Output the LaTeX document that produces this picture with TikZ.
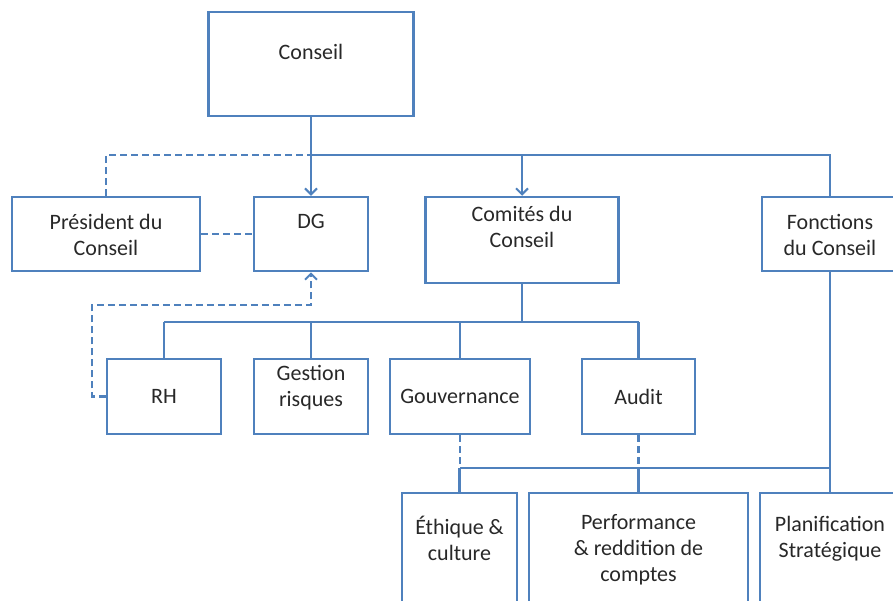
\documentclass[tikz,border=0pt]{standalone}
\usepackage{fontspec}
\setmainfont{Carlito}
\usetikzlibrary{arrows.meta}

\definecolor{orgblue}{RGB}{79,129,189}
\definecolor{orgtext}{RGB}{40,40,40}

\tikzset{
  box/.style={draw=orgblue, line width=2.5pt, rectangle, inner sep=0pt},
  txt/.style={anchor=north, align=center, text=orgtext, inner sep=0pt,
    font=\fontsize{22}{26}\selectfont},
  link/.style={draw=orgblue, line width=2.5pt},
  dashlink/.style={link, dash pattern=on 7pt off 4pt},
  tip/.style={-{Straight Barb[length=6pt,width=12pt,line width=2pt]}}
}

\begin{document}
\begin{tikzpicture}[x=1pt,y=-1pt]

      \useasboundingbox (0,0) rectangle (893,600);
      \clip (0,0) rectangle (893,600);

      \begin{scope}
        \node[box, minimum width=205pt, minimum height=104pt,
          label={[txt, yshift=-33pt]north:Conseil}] (conseil) at (311,64) {};

        \node[box, minimum width=188pt, minimum height=74pt,
          label={[txt, yshift=-18pt]north:Président du\\Conseil}] (pres) at (106,234) {};
        \node[box, minimum width=114pt, minimum height=74pt,
          label={[txt, yshift=-18pt]north:DG}] (dg) at (311,234) {};
        \node[box, minimum width=193pt, minimum height=86pt,
          label={[txt, yshift=-10pt]north:Comités du\\Conseil}] (comites) at (522,240) {};
        \node[box, minimum width=136pt, minimum height=74pt,
          label={[txt, yshift=-18pt]north:Fonctions\\du Conseil}] (fonctions) at (830,234) {};

        \node[box, minimum width=114pt, minimum height=75pt,
          label={[txt, yshift=-31pt]north:RH}] (rh) at (164,396.5) {};
        \node[box, minimum width=114pt, minimum height=75pt,
          label={[txt, yshift=-7pt]north:Gestion\\risques}] (risques) at (311,396.5) {};
        \node[box, minimum width=140pt, minimum height=75pt,
          label={[txt, yshift=-31pt]north:Gouvernance}] (gouv) at (460,396.5) {};
        \node[box, minimum width=113pt, minimum height=75pt,
          label={[txt, yshift=-31pt]north:Audit}] (audit) at (638.5,396.5) {};

        \node[box, minimum width=115pt, minimum height=130pt,
          label={[txt, yshift=-24pt]north:Éthique \&\\culture}] (ethique) at (459.5,558) {};
        \node[box, minimum width=219pt, minimum height=130pt,
          label={[txt, yshift=-22pt]north:Performance\\\& reddition de\\comptes}] (perf) at (638.5,558) {};
        \node[box, minimum width=140pt, minimum height=130pt,
          label={[txt, yshift=-24pt]north:Planification\\Stratégique}] (planif) at (830,558) {};
      \end{scope}

      % bus lines
      \coordinate (topbus) at (311,155);
      \coordinate (midbus) at (522,322);
      \coordinate (lowbus) at (830,468);
      \coordinate (rhloop) at (92,305);

      \draw[link, tip] (conseil.south) -- (dg.north);
      \draw[link] (topbus) -- (fonctions.north |- topbus) -- (fonctions.north);
      \draw[link, tip] (comites.north |- topbus) -- (comites.north);
      \draw[dashlink] (pres.north) |- (topbus);
      \draw[dashlink] (pres.east) -- (dg.west);

      \draw[link] (comites.south) -- (midbus);
      \draw[link] (rh.north |- midbus) -- (audit.north |- midbus);
      \foreach \n in {rh,risques,gouv,audit}
        \draw[link] (\n.north |- midbus) -- (\n.north);

      \draw[dashlink, tip] (rh.west) -| (rhloop) -| (dg.south);

      \draw[link] (fonctions.south) -- (lowbus) -- (ethique.north |- lowbus);
      \foreach \n in {ethique,perf,planif}
        \draw[link] (\n.north |- lowbus) -- (\n.north);
      \draw[dashlink] (gouv.south) -- (gouv.south |- lowbus);
      \draw[dashlink] (audit.south) -- (audit.south |- lowbus);

    \end{tikzpicture}
\end{document}
